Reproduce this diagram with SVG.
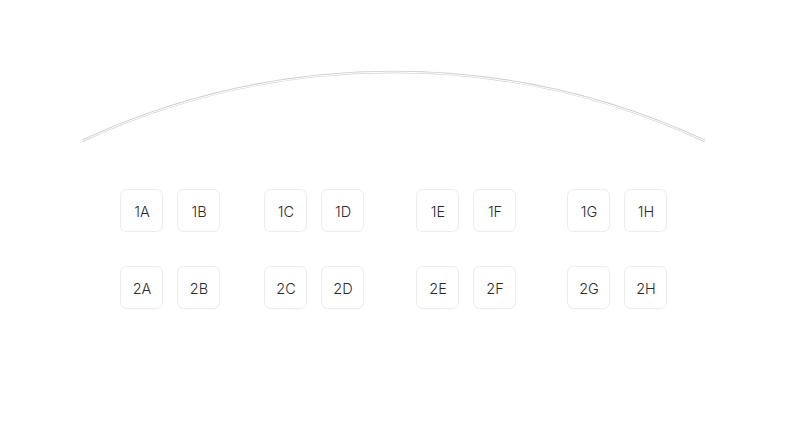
<svg xmlns="http://www.w3.org/2000/svg" width="800" height="435" viewBox="0 0 800 435">
<style>
.seat rect{fill:#fff;stroke:#ebebeb;stroke-width:1}
.seat text{font-family:Inter,"Noto Sans",sans-serif;font-size:14.5px;font-weight:300;fill:#2a2a2a;text-anchor:middle;dominant-baseline:central}
.stage-outer{fill:none;stroke:#cfcfcf;stroke-width:2.6}
.stage-inner{fill:none;stroke:#fff;stroke-width:1}
</style>
<rect width="800" height="435" fill="#fff"/>
<g id="stage">
<path class="stage-outer" d="M82,141 A737.6,737.6 0 0 1 705,141"/>
<path class="stage-inner" d="M82,141 A737.6,737.6 0 0 1 705,141"/>
</g>
<g id="seat-1A" class="seat"><rect x="120.5" y="189.5" width="42" height="42" rx="6"/><text x="142" y="211.5">1A</text></g>
<g id="seat-1B" class="seat"><rect x="177.5" y="189.5" width="42" height="42" rx="6"/><text x="199" y="211.5">1B</text></g>
<g id="seat-1C" class="seat"><rect x="264.5" y="189.5" width="42" height="42" rx="6"/><text x="286" y="211.5">1C</text></g>
<g id="seat-1D" class="seat"><rect x="321.5" y="189.5" width="42" height="42" rx="6"/><text x="343" y="211.5">1D</text></g>
<g id="seat-1E" class="seat"><rect x="416.5" y="189.5" width="42" height="42" rx="6"/><text x="438" y="211.5">1E</text></g>
<g id="seat-1F" class="seat"><rect x="473.5" y="189.5" width="42" height="42" rx="6"/><text x="495" y="211.5">1F</text></g>
<g id="seat-1G" class="seat"><rect x="567.5" y="189.5" width="42" height="42" rx="6"/><text x="589" y="211.5">1G</text></g>
<g id="seat-1H" class="seat"><rect x="624.5" y="189.5" width="42" height="42" rx="6"/><text x="646" y="211.5">1H</text></g>
<g id="seat-2A" class="seat"><rect x="120.5" y="266.5" width="42" height="42" rx="6"/><text x="142" y="288.5">2A</text></g>
<g id="seat-2B" class="seat"><rect x="177.5" y="266.5" width="42" height="42" rx="6"/><text x="199" y="288.5">2B</text></g>
<g id="seat-2C" class="seat"><rect x="264.5" y="266.5" width="42" height="42" rx="6"/><text x="286" y="288.5">2C</text></g>
<g id="seat-2D" class="seat"><rect x="321.5" y="266.5" width="42" height="42" rx="6"/><text x="343" y="288.5">2D</text></g>
<g id="seat-2E" class="seat"><rect x="416.5" y="266.5" width="42" height="42" rx="6"/><text x="438" y="288.5">2E</text></g>
<g id="seat-2F" class="seat"><rect x="473.5" y="266.5" width="42" height="42" rx="6"/><text x="495" y="288.5">2F</text></g>
<g id="seat-2G" class="seat"><rect x="567.5" y="266.5" width="42" height="42" rx="6"/><text x="589" y="288.5">2G</text></g>
<g id="seat-2H" class="seat"><rect x="624.5" y="266.5" width="42" height="42" rx="6"/><text x="646" y="288.5">2H</text></g>
<g id="connectors"/>
</svg>
